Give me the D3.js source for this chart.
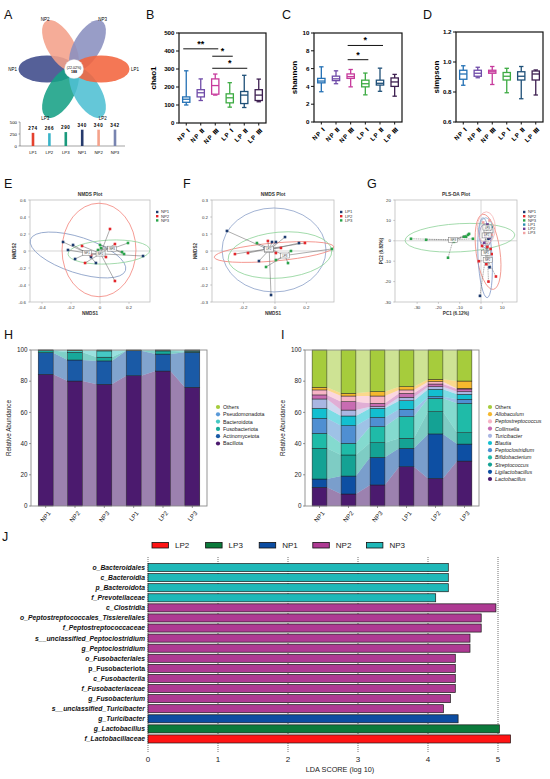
<!DOCTYPE html>
<html><head><meta charset="utf-8">
<script src="https://cdn.jsdelivr.net/npm/d3@7"></script>
<style>
body{margin:0;background:#fff}
svg{display:block}
text{font-family:"Liberation Sans",Arial,"DejaVu Sans",sans-serif}
</style>
</head><body>
<svg id="c" width="550" height="779"></svg>
<script>
// ---------------- DATA ----------------
// Panel A (Venn / flower)
const vennSets = ["NP1","NP2","NP3","LP1","LP2","LP3"];
const vennCoreLabel = ["(22.02%)","188"];
const uniqueSets = ["LP1","LP2","LP3","NP1","NP2","NP3"];
const otuCounts = [274,266,290,340,340,342];
const otuTicks = [0,250,500];

// Panels B-D (box plots: min, q1, median, q3, max)
const boxGroups = ["NP Ⅰ","NP Ⅱ","NP Ⅲ","LP Ⅰ","LP Ⅱ","LP Ⅲ"];
const chao1 = [[100,115,132,145,290],[125,145,168,185,245],[155,160,208,245,272],[88,112,140,162,224],[86,108,155,175,265],[118,125,155,185,244]];
const shannon = [[3.4,4.4,4.6,4.9,6.2],[4.3,4.65,4.85,5.15,5.75],[3.95,4.9,5.1,5.4,5.9],[3.05,3.95,4.3,4.7,5.5],[3.45,4.15,4.35,4.7,6.05],[2.9,4.0,4.5,4.95,5.35]];
const simpson = [[0.845,0.885,0.92,0.945,0.975],[0.895,0.905,0.925,0.945,0.965],[0.85,0.925,0.935,0.945,0.97],[0.795,0.88,0.905,0.93,0.958],[0.755,0.88,0.905,0.935,0.97],[0.78,0.88,0.92,0.94,0.947]];
const chao1Ticks = [0,100,200,300,400,500];
const shannonTicks = [0,2,4,6,8,10];
const simpsonTicks = [0.6,0.8,1.0,1.2];
const chao1Sig = [[0,2,412,"**"],[2,3,371,"*"],[2,4,304,"*"]];
const shannonSig = [[2,4,8.6,"*"],[2,3,7.0,"*"]];

// Panel E (NMDS, NP groups)
const eNP1 = [[-0.255,0.106],[-0.186,0.071],[-0.221,0.012],[-0.172,-0.094],[-0.062,-0.071],[-0.028,-0.141],[0.297,-0.059]];
const eNP2 = [[0.069,0.259],[0.103,0.082],[-0.124,0.059],[-0.062,-0.047],[-0.103,-0.141],[0.041,-0.071],[0.103,-0.353]];
const eNP3 = [[0.193,0.094],[0.152,-0.012],[0.166,-0.035],[0.0,0.071],[0.007,0.035],[-0.014,0.012]];
const eEllipses = [{g:"NP1",cx:-0.152,cy:-0.047,rx:0.345,ry:0.21,a:18},{g:"NP2",cx:-0.007,cy:0.012,rx:0.255,ry:0.55,a:0},{g:"NP3",cx:0.062,cy:-0.012,rx:0.283,ry:0.14,a:-3}];
const eXTicks = [-0.4,-0.2,0,0.2];
const eYTicks = [-0.6,-0.4,-0.2,0,0.2,0.4,0.6];

// Panel F (NMDS, LP groups)
const fLP1 = [[-0.306,0.118],[-0.064,0.018],[-0.019,0.053],[0.006,0.053],[0.064,0.082],[0.153,0.047],[-0.102,-0.059],[-0.025,-0.259]];
const fLP2 = [[-0.255,-0.018],[-0.172,-0.012],[-0.045,0.059],[0.191,0.047],[0.038,0.018],[0.006,-0.012]];
const fLP3 = [[-0.115,0.047],[-0.057,-0.094],[0.006,-0.053],[0.083,-0.071],[0.102,0.0],[0.363,0.012]];
const fEllipses = [{g:"LP1",cx:-0.006,cy:0.006,rx:0.331,ry:0.247,a:0},{g:"LP2",cx:-0.006,cy:-0.006,rx:0.382,ry:0.053,a:-5},{g:"LP3",cx:0.032,cy:-0.024,rx:0.331,ry:0.135,a:-5}];
const fXTicks = [-0.2,0,0.2];
const fYTicks = [-0.3,-0.2,-0.1,0,0.1,0.2,0.3];

// Panel G (PLS-DA, all groups)
const gNP1 = [[2.5,6],[3.5,1],[4,-13],[-0.5,-27],[3,-5],[2,3]];
const gNP2 = [[0.5,-2.5],[3,-3],[4.5,-4],[-1,-10],[2.5,-11.5],[5,-6.5],[7,-17.5],[3.5,-20]];
const gNP3 = [[-32.9,1.0],[-25.8,0.5],[-15.5,-8.3],[-12.7,-0.5],[-8.0,2.0],[-7.0,2.0],[-6.1,2.9],[-5.6,3.4],[-3.8,1.0]];
const gLP1 = [[3,7],[5,6.5],[2,5],[4,2]];
const gLP2 = [[2,2],[4,1.5],[3,8],[1.5,-1]];
const gLP3 = [[1,9],[4,10],[2,4],[5,3]];
const gEllipses = [{g:"NP3",cx:-9.9,cy:1.5,rx:25.8,ry:6.9,a:-3},{g:"NP2",cx:3.3,cy:-5.4,rx:5.6,ry:18.6,a:-8},{g:"NP1",cx:1.9,cy:-8.3,rx:3.3,ry:19.6,a:-3},{g:"LP1",cx:2.3,cy:4.4,rx:3.3,ry:6.9,a:0},{g:"LP2",cx:2.0,cy:2.5,rx:2.8,ry:5.9,a:0},{g:"LP3",cx:2.5,cy:6.4,rx:4.2,ry:7.8,a:0}];
const gXTicks = [-30,-20,-10,0,10];
const gYTicks = [-30,-20,-10,0,10,20];

// Panel H (phylum relative abundance, %)
const samples = ["NP1","NP2","NP3","LP1","LP2","LP3"];
const phyla = ["Bacillota","Actinomycetota","Fusobacteriota","Bacteroidota","Pseudomonadota","Others"];
const bacillota = [84.4,80.1,78.0,83.5,86.5,76.1];
const actinomycetota = [13.9,13.5,15.0,16.0,10.9,22.4];
const fusobacteriota = [1.3,4.9,2.4,0.2,2.0,0.6];
const bacteroidota = [0.3,1.0,4.0,0.1,0.4,0.6];
const pseudomonadota = [0.05,0.3,0.4,0.1,0.1,0.2];
const othersPhylum = [0.05,0.2,0.2,0.1,0.1,0.1];
const abundTicks = [0,20,40,60,80,100];

// Panel I (genus relative abundance, %)
const genera = ["Lactobacillus","Ligilactobacillus","Streptococcus","Bifidobacterium","Peptoclostridium","Blautia","Turicibacter","Collinsella","Peptostreptococcus","Allobaculum","Others"];
const lactobacillus = [12.0,7.7,13.5,25.2,17.7,28.8];
const ligilactobacillus = [5.3,11.5,17.7,11.8,28.5,10.9];
const streptococcus = [19.7,13.5,9.4,6.4,14.3,7.3];
const bifidobacterium = [9.6,7.5,10.3,13.9,8.5,18.8];
const peptoclostridium = [9.6,11.3,5.9,4.7,1.1,2.6];
const blautia = [6.4,6.2,5.8,5.5,4.7,3.2];
const turicibacter = [6.0,3.8,1.1,2.2,1.7,1.7];
const collinsella = [2.6,5.4,2.1,2.5,1.7,1.7];
const peptostreptococcus = [3.2,3.6,4.7,2.2,1.5,0.4];
const allobaculum = [1.7,1.7,2.8,2.1,1.5,4.7];
const othersGenus = [23.9,27.8,26.7,23.5,18.8,19.9];

// Panel J (LEfSe LDA)
const ldaGroups = ["LP2","LP3","NP1","NP2","NP3"];
const ldaFeatures = ["o_Bacteroidales","c_Bacteroidia","p_Bacteroidota","f_Prevotellaceae","c_Clostridia","o_Peptostreptococcales_Tissierellales","f_Peptostreptococcaceae","s__unclassified_Peptoclostridium","g_Peptoclostridium","o_Fusobacteriales","p_Fusobacteriota","c_Fusobacteriia","f_Fusobacteriaceae","g_Fusobacterium","s__unclassified_Turicibacter","g_Turicibacter","g_Lactobacillus","f_Lactobacillaceae"];
const ldaScores = [4.29,4.29,4.29,4.11,4.97,4.76,4.76,4.60,4.60,4.39,4.39,4.39,4.39,4.32,4.22,4.43,5.02,5.18];
const ldaClass = ["NP3","NP3","NP3","NP3","NP2","NP2","NP2","NP2","NP2","NP2","NP2","NP2","NP2","NP2","NP2","NP1","LP3","LP2"];
const ldaTicks = [0,1,2,3,4,5];

// ---------------- DRAW ----------------
const svg = d3.select("#c");

// panel letters
[["A",4,19],["B",146,19],["C",282,19],["D",423,19],["E",4,188],["F",183,188],["G",367,188],["H",4,339],["I",281,339],["J",2,541]]
 .forEach(([t,x,y])=>svg.append("text").attr("x",x).attr("y",y).attr("font-size",12.5).attr("fill","#111").text(t));

// ---- Panel A ----
(function(){
  const g = svg.append("g");
  const cx=74, cy=69;
  const col = {NP1:"#3e4a8a",NP2:"#f4a18a",NP3:"#8a90bf",LP1:"#f2643e",LP2:"#4ebfd3",LP3:"#17a185"};
  const ang = d3.scalePoint().domain(["LP1","LP2","LP3","NP1","NP2","NP3"]).range([0,300]);
  ["NP1","NP2","NP3","LP3","LP2","LP1"].forEach(s=>{
    const a = ang(s);
    g.append("ellipse").attr("cx",0).attr("cy",0).attr("rx",28.5).attr("ry",13.5)
      .attr("transform",`translate(${cx},${cy}) rotate(${a}) translate(27,0)`)
      .attr("fill",col[s]).attr("fill-opacity",0.88);
  });
  vennSets.forEach(s=>{
    const a = ang(s)*Math.PI/180;
    const horiz = Math.abs(Math.cos(a))>0.9;
    const r = horiz ? 57 : 57.5;
    const lx = cx+r*Math.cos(a), ly = cy+r*Math.sin(a);
    g.append("text").attr("x",lx).attr("y",ly+1.5).attr("font-size",4.5)
      .attr("text-anchor", horiz ? (Math.cos(a)>0?"start":"end") : "middle").text(s);
  });
  g.append("circle").attr("cx",cx).attr("cy",cy).attr("r",9.5).attr("fill","#fff").attr("stroke","#ddd").attr("stroke-width",0.4);
  g.append("text").attr("x",cx).attr("y",cy-0.5).attr("font-size",3.6).attr("text-anchor","middle").text(vennCoreLabel[0]);
  g.append("text").attr("x",cx).attr("y",cy+4).attr("font-size",3.6).attr("font-weight","bold").attr("text-anchor","middle").text(vennCoreLabel[1]);

  const x = d3.scalePoint().domain(uniqueSets).range([33,115]);
  const y = d3.scaleLinear().domain([0,500]).range([146,122]);
  g.append("line").attr("x1",20).attr("x2",125).attr("y1",146).attr("y2",146).attr("stroke","#444").attr("stroke-width",0.5);
  g.append("line").attr("x1",20).attr("x2",20).attr("y1",122).attr("y2",146).attr("stroke","#444").attr("stroke-width",0.5);
  otuTicks.forEach(t=>{
    g.append("line").attr("x1",18.5).attr("x2",20).attr("y1",y(t)).attr("y2",y(t)).attr("stroke","#444").attr("stroke-width",0.5);
    g.append("text").attr("x",17).attr("y",y(t)+1.5).attr("font-size",4.3).attr("text-anchor","end").text(t);
  });
  const bcol = {LP1:"#e4412e",LP2:"#3ab4c9",LP3:"#1a997c",NP1:"#263a6c",NP2:"#f4a28b",NP3:"#7884b0"};
  uniqueSets.forEach((s,i)=>{
    g.append("rect").attr("x",x(s)-1.3).attr("width",2.6).attr("y",y(otuCounts[i])).attr("height",y(0)-y(otuCounts[i])).attr("fill",bcol[s]);
    g.append("text").attr("x",x(s)).attr("y",y(otuCounts[i])-3).attr("font-size",4.6).attr("font-weight","bold").attr("text-anchor","middle").attr("letter-spacing",0.6).text(otuCounts[i]);
    g.append("text").attr("x",x(s)).attr("y",154).attr("font-size",4.3).attr("text-anchor","middle").text(s);
  });
})();

// ---- Panels B-D ----
const boxColors = ["#2471b5","#6f4ba8","#c73a9c","#3dab43","#1f5078","#3d1f50"];
function boxPanel(o){
  const g = svg.append("g");
  const x = d3.scaleBand().domain(boxGroups).range([o.x0,o.x1]).paddingInner(0.5).paddingOuter(0.25);
  const y = d3.scaleLinear().domain(o.yd).range([o.y1,o.y0]);
  const bw = x.bandwidth();
  g.append("rect").attr("x",o.x0).attr("y",o.y0).attr("width",o.x1-o.x0).attr("height",o.y1-o.y0).attr("fill","none").attr("stroke","#111").attr("stroke-width",1.2);
  o.ticks.forEach(t=>{
    g.append("line").attr("x1",o.x0-3).attr("x2",o.x0).attr("y1",y(t)).attr("y2",y(t)).attr("stroke","#111").attr("stroke-width",1);
    g.append("text").attr("x",o.x0-4.5).attr("y",y(t)+2.2).attr("font-size",6.2).attr("font-weight","bold").attr("text-anchor","end").text(o.fmt(t));
  });
  g.append("text").attr("transform",`translate(${o.lx},${(o.y0+o.y1)/2}) rotate(-90)`).attr("font-size",8).attr("font-weight","bold").attr("text-anchor","middle").text(o.label);
  o.data.forEach((d,i)=>{
    const c = x(boxGroups[i])+bw/2, col = boxColors[i];
    const [mn,q1,md,q3,mx] = d;
    const s = sel=>sel.attr("stroke",col).attr("stroke-width",1.3).attr("fill","none");
    g.append("line").attr("x1",c).attr("x2",c).attr("y1",y(mx)).attr("y2",y(q3)).call(s);
    g.append("line").attr("x1",c).attr("x2",c).attr("y1",y(q1)).attr("y2",y(mn)).call(s);
    g.append("line").attr("x1",c-2.2).attr("x2",c+2.2).attr("y1",y(mx)).attr("y2",y(mx)).call(s);
    g.append("line").attr("x1",c-2.2).attr("x2",c+2.2).attr("y1",y(mn)).attr("y2",y(mn)).call(s);
    g.append("rect").attr("x",c-bw/2).attr("width",bw).attr("y",y(q3)).attr("height",y(q1)-y(q3)).call(s).attr("fill","#fff");
    g.append("line").attr("x1",c-bw/2).attr("x2",c+bw/2).attr("y1",y(md)).attr("y2",y(md)).call(s);
    g.append("line").attr("x1",c).attr("x2",c).attr("y1",o.y1).attr("y2",o.y1+2.5).attr("stroke","#111").attr("stroke-width",1);
    g.append("text").attr("transform",`translate(${c+2},${o.y1+5}) rotate(-45)`).attr("font-size",6.2).attr("font-weight","bold").attr("letter-spacing",0.8).attr("text-anchor","end").attr("dy","0.6em").text(boxGroups[i]);
  });
  (o.sig||[]).forEach(([a,b,v,t])=>{
    const xa = x(boxGroups[a])+bw/2, xb = x(boxGroups[b])+bw/2;
    g.append("line").attr("x1",xa-3).attr("x2",xb+3).attr("y1",y(v)).attr("y2",y(v)).attr("stroke","#111").attr("stroke-width",1);
    g.append("text").attr("x",(xa+xb)/2).attr("y",y(v)-2).attr("font-size",9).attr("font-weight","bold").attr("text-anchor","middle").text(t);
  });
}
boxPanel({x0:179,x1:266,y0:33,y1:123,yd:[0,500],ticks:chao1Ticks,fmt:d=>d,label:"chao1",lx:156,data:chao1,sig:chao1Sig});
boxPanel({x0:314,x1:402,y0:33,y1:122,yd:[0,10],ticks:shannonTicks,fmt:d=>d,label:"shannon",lx:297,data:shannon,sig:shannonSig});
boxPanel({x0:456,x1:543,y0:32,y1:122,yd:[0.6,1.2],ticks:simpsonTicks,fmt:d3.format(".1f"),label:"simpson",lx:439,data:simpson});

// ---- Panels E-G (ordination) ----
function scatter(o){
  const g = svg.append("g");
  const x = d3.scaleLinear().domain(o.xd).range([o.x0,o.x1]);
  const y = d3.scaleLinear().domain(o.yd).range([o.y1,o.y0]);
  const kx = Math.abs(x(1)-x(0)), ky = Math.abs(y(1)-y(0));
  g.append("rect").attr("x",o.x0).attr("y",o.y0).attr("width",o.x1-o.x0).attr("height",o.y1-o.y0).attr("fill","none").attr("stroke","#bdbdbd").attr("stroke-width",0.8);
  g.append("line").attr("x1",x(0)).attr("x2",x(0)).attr("y1",o.y0).attr("y2",o.y1).attr("stroke","#c4c4c4").attr("stroke-width",0.7);
  g.append("line").attr("x1",o.x0).attr("x2",o.x1).attr("y1",y(0)).attr("y2",y(0)).attr("stroke","#c4c4c4").attr("stroke-width",0.7);
  o.xt.forEach(t=>{
    g.append("line").attr("x1",x(t)).attr("x2",x(t)).attr("y1",o.y1).attr("y2",o.y1+1.8).attr("stroke","#999").attr("stroke-width",0.5);
    g.append("text").attr("x",x(t)).attr("y",o.y1+7).attr("font-size",4.4).attr("fill","#333").attr("text-anchor","middle").text(t);
  });
  o.yt.forEach(t=>{
    g.append("line").attr("x1",o.x0-1.8).attr("x2",o.x0).attr("y1",y(t)).attr("y2",y(t)).attr("stroke","#999").attr("stroke-width",0.5);
    g.append("text").attr("x",o.x0-4).attr("y",y(t)+1.5).attr("font-size",4.4).attr("fill","#333").attr("text-anchor","end").text(t);
  });
  g.append("text").attr("x",(o.x0+o.x1)/2).attr("y",o.y0-4).attr("font-size",4.8).attr("font-weight","bold").attr("fill","#333").attr("text-anchor","middle").text(o.title);
  g.append("text").attr("x",(o.x0+o.x1)/2).attr("y",o.y1+13).attr("font-size",4.6).attr("font-weight","bold").attr("fill","#333").attr("text-anchor","middle").text(o.xl);
  g.append("text").attr("transform",`translate(${o.ylx},${(o.y0+o.y1)/2}) rotate(-90)`).attr("font-size",4.6).attr("font-weight","bold").attr("fill","#333").attr("text-anchor","middle").text(o.yl);
  const inner = g.append("g");
  o.ell.forEach(e=>{
    inner.append("ellipse").attr("cx",0).attr("cy",0).attr("rx",e.rx*kx).attr("ry",e.ry*ky)
      .attr("transform",`translate(${x(e.cx)},${y(e.cy)}) rotate(${e.a})`)
      .attr("fill","none").attr("stroke",o.ellCol[e.g]).attr("stroke-width",0.8);
  });
  const cents = [];
  o.groups.forEach(gr=>{
    const pts = o.pts[gr];
    const mx = d3.mean(pts,p=>p[0]), my = d3.mean(pts,p=>p[1]);
    cents.push([gr,mx,my]);
    pts.forEach(p=>inner.append("line").attr("x1",x(mx)).attr("y1",y(my)).attr("x2",x(p[0])).attr("y2",y(p[1])).attr("stroke","#6a6a6a").attr("stroke-width",0.55).attr("stroke-dasharray",o.dash||null));
  });
  o.groups.forEach(gr=>{
    o.pts[gr].forEach(p=>inner.append("rect").attr("x",x(p[0])-1.3).attr("y",y(p[1])-1.3).attr("width",2.6).attr("height",2.6).attr("fill",o.ptCol[gr]));
  });
  cents.forEach(([gr,mx,my])=>{
    inner.append("rect").attr("x",x(mx)-4.5).attr("y",y(my)-2.5).attr("width",9).attr("height",5).attr("fill","#fff").attr("fill-opacity",0.85).attr("stroke","#666").attr("stroke-width",0.45);
    inner.append("text").attr("x",x(mx)).attr("y",y(my)+1).attr("font-size",2.8).attr("fill","#444").attr("text-anchor","middle").text(gr);
  });
  o.groups.forEach((gr,i)=>{
    const ly = o.y0+12+i*4.2;
    g.append("rect").attr("x",o.x1+6).attr("y",ly-1.2).attr("width",2.4).attr("height",2.4).attr("fill",o.ptCol[gr]);
    g.append("text").attr("x",o.x1+11).attr("y",ly+1.4).attr("font-size",4.2).attr("fill","#333").text(gr);
  });
}
const ptCol = {NP1:"#1c3a6e",NP2:"#e3262b",NP3:"#2aa34a",LP1:"#1c3a6e",LP2:"#e3262b",LP3:"#2aa34a"};
const ellCol = {NP1:"#8aa0c8",NP2:"#f2837a",NP3:"#8fd39a",LP1:"#8aa0c8",LP2:"#f2837a",LP3:"#8fd39a"};
scatter({id:"E",x0:30,x1:150,y0:200,y1:302,xd:[-0.483,0.345],yd:[-0.6,0.6],xt:eXTicks,yt:eYTicks,title:"NMDS Plot",xl:"NMDS1",yl:"NMDS2",ylx:16,
  groups:["NP1","NP2","NP3"],pts:{NP1:eNP1,NP2:eNP2,NP3:eNP3},ell:eEllipses,ptCol,ellCol});
scatter({id:"F",x0:212,x1:334,y0:200,y1:302,xd:[-0.401,0.376],yd:[-0.3,0.3],xt:fXTicks,yt:fYTicks,title:"NMDS Plot",xl:"NMDS1",yl:"NMDS2",ylx:197,
  groups:["LP1","LP2","LP3"],pts:{LP1:fLP1,LP2:fLP2,LP3:fLP3},ell:fEllipses,ptCol,ellCol});
scatter({id:"G",x0:395,x1:517,y0:200,y1:302,xd:[-40.4,16.9],yd:[-30,20],xt:gXTicks,yt:gYTicks,title:"PLS-DA Plot",xl:"PC1 (6.12%)",yl:"PC2 (6.82%)",ylx:383,dash:"1.2,0.6",
  groups:["NP1","NP2","NP3","LP1","LP2","LP3"],pts:{NP1:gNP1,NP2:gNP2,NP3:gNP3,LP1:gLP1,LP2:gLP2,LP3:gLP3},ell:gEllipses,
  ptCol:{NP1:"#1c3a6e",NP2:"#e3262b",NP3:"#2aa34a",LP1:"#2b8fb0",LP2:"#6e3f93",LP3:"#f2a3a3"},
  ellCol:{NP1:"#7f97c6",NP2:"#f08a80",NP3:"#8fd39a",LP1:"#8fb3cf",LP2:"#9d8fc0",LP3:"#f5b3b3"}});

// ---- Panels H, I (stacked with alluvial bands) ----
function stackPanel(o){
  const g = svg.append("g");
  const x = d3.scaleBand().domain(samples).range([o.x0,o.x1]).paddingInner(0.49).paddingOuter(0.245);
  const y = d3.scaleLinear().domain([0,100]).range([o.y1,o.y0]);
  const rows = samples.map((s,i)=>{ const r={sample:s}; o.keys.forEach((k,j)=>r[k]=o.series[j][i]); return r; });
  const st = d3.stack().keys(o.keys)(rows);
  const bw = x.bandwidth();
  st.forEach((layer,j)=>{
    for(let i=0;i<samples.length-1;i++){
      const a = layer[i], b = layer[i+1];
      const xa = x(samples[i])+bw, xb = x(samples[i+1]);
      g.append("path").attr("d",`M${xa},${y(a[1])}L${xb},${y(b[1])}L${xb},${y(b[0])}L${xa},${y(a[0])}Z`)
        .attr("fill",o.colors[j]).attr("fill-opacity",0.55);
    }
  });
  st.forEach((layer,j)=>{
    layer.forEach((d,i)=>{
      g.append("rect").attr("x",x(samples[i])).attr("width",bw).attr("y",y(d[1])).attr("height",Math.max(0,y(d[0])-y(d[1])))
        .attr("fill",o.colors[j]).attr("stroke","#1a1a1a").attr("stroke-width",0.45);
    });
  });
  g.append("rect").attr("x",o.x0).attr("y",o.y0).attr("width",o.x1-o.x0).attr("height",o.y1-o.y0).attr("fill","none").attr("stroke","#8a8a8a").attr("stroke-width",0.9);
  abundTicks.forEach(t=>{
    g.append("line").attr("x1",o.x0-2).attr("x2",o.x0).attr("y1",y(t)).attr("y2",y(t)).attr("stroke","#555").attr("stroke-width",0.6);
    g.append("text").attr("x",o.x0-3.5).attr("y",y(t)+2.2).attr("font-size",6.3).attr("fill","#222").attr("text-anchor","end").text(t);
  });
  samples.forEach(s=>{
    const c = x(s)+bw/2;
    g.append("line").attr("x1",c).attr("x2",c).attr("y1",o.y1).attr("y2",o.y1+2).attr("stroke","#555").attr("stroke-width",0.6);
    g.append("text").attr("transform",`translate(${c+2.5},${o.y1+5}) rotate(-50)`).attr("font-size",6.2).attr("fill","#222").attr("text-anchor","end").attr("dy","0.6em").text(s);
  });
  g.append("text").attr("transform",`translate(${o.x0-20},${(o.y0+o.y1)/2}) rotate(-90)`).attr("font-size",6.3).attr("fill","#222").attr("text-anchor","middle").text("Relative Abundance");
  const lk = o.keys.slice().reverse(), lc = o.colors.slice().reverse();
  lk.forEach((k,i)=>{
    const ly = o.ly+i*o.lstep;
    g.append("circle").attr("cx",o.lx).attr("cy",ly).attr("r",2.1).attr("fill",lc[i]);
    g.append("text").attr("x",o.lx+5).attr("y",ly+1.9).attr("font-size",5.3).attr("fill","#222")
      .attr("font-style", (o.italic && k!=="Others")?"italic":"normal").text(k);
  });
}
stackPanel({x0:31,x1:207,y0:350,y1:506,keys:phyla,series:[bacillota,actinomycetota,fusobacteriota,bacteroidota,pseudomonadota,othersPhylum],
  colors:["#4b1a6e","#1a5aa6","#17a99a","#45c9c4","#5a9ad8","#a5cc3c"],lx:218,ly:407,lstep:7.3,italic:false});
stackPanel({x0:305,x1:479,y0:350,y1:506,keys:genera,series:[lactobacillus,ligilactobacillus,streptococcus,bifidobacterium,peptoclostridium,blautia,turicibacter,collinsella,peptostreptococcus,allobaculum,othersGenus],
  colors:["#4b1a6e","#0d4fa3","#14a294","#1fbba8","#4f8fd2","#12bfd0","#a9b6e2","#c86cb2","#f7b4c6","#f5b82e","#a6cc3c"],lx:490,ly:407,lstep:7.2,italic:true});

// ---- Panel J (LDA) ----
(function(){
  const g = svg.append("g");
  const col = {LP2:"#ff1414",LP3:"#0b7a3b",NP1:"#0c4da2",NP2:"#ae3a93",NP3:"#1fb8b8"};
  const x = d3.scaleLinear().domain([0,5]).range([148,498]);
  const y = d3.scaleBand().domain(ldaFeatures).range([562.5,744]).paddingInner(0.2).paddingOuter(0.1);
  ldaTicks.forEach(t=>{
    g.append("line").attr("x1",x(t)).attr("x2",x(t)).attr("y1",557).attr("y2",752).attr("stroke","#333").attr("stroke-width",0.7).attr("stroke-dasharray","1,1");
    g.append("text").attr("x",x(t)).attr("y",762).attr("font-size",8).attr("fill","#222").attr("text-anchor","middle").text(t);
  });
  g.append("text").attr("x",340).attr("y",772).attr("font-size",7.3).attr("fill","#222").attr("text-anchor","middle").text("LDA SCORE (log 10)");
  ldaFeatures.forEach((f,i)=>{
    g.append("rect").attr("x",x(0)).attr("y",y(f)).attr("width",x(ldaScores[i])-x(0)).attr("height",y.bandwidth())
      .attr("fill",col[ldaClass[i]]).attr("stroke","#1a1a1a").attr("stroke-width",0.7);
    g.append("text").attr("x",145).attr("y",y(f)+y.bandwidth()/2).attr("dy","0.36em").attr("font-size",6.8).attr("font-weight","bold")
      .attr("font-style", f==="p_Fusobacteriota"?"normal":"italic").attr("fill","#111").attr("text-anchor","end").text(f);
  });
  ldaGroups.forEach((gr,i)=>{
    const lx = 152+i*53.6;
    g.append("rect").attr("x",lx).attr("y",542.5).attr("width",16.5).attr("height",5.5).attr("fill",col[gr]).attr("stroke","#111").attr("stroke-width",0.8);
    g.append("text").attr("x",lx+23).attr("y",548.3).attr("font-size",8).attr("fill","#222").text(gr);
  });
})();
</script>
</body></html>
